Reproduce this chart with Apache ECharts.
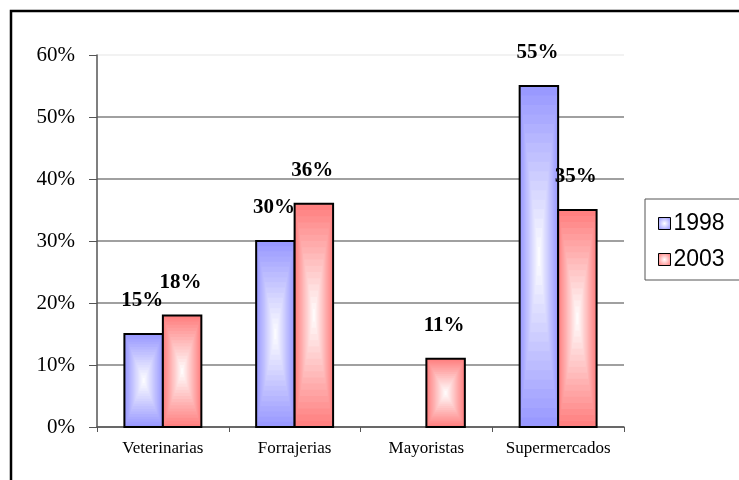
<!DOCTYPE html>
<html>
<head>
<meta charset="utf-8">
<script src="https://cdn.jsdelivr.net/npm/echarts@6/dist/echarts.min.js"></script>
<style>
  html, body { margin: 0; padding: 0; background: #fff; }
  #chart { width: 739px; height: 480px; }
</style>
</head>
<body>
<div id="chart"></div>
<script>
// Canales de venta: participación por año
const categories = ['Veterinarias', 'Forrajerias', 'Mayoristas', 'Supermercados'];
const seriesNames = ['1998', '2003'];
const values1998 = [15, 30, null, 55];
const values2003 = [18, 36, 11, 35];
const yMin = 0, yMax = 60, yStep = 10;

const edgeColors = { '1998': [153, 153, 255], '2003': [255, 128, 128] };

function mix(c, t) {
  const r = Math.round(c[0] + (255 - c[0]) * t);
  const g = Math.round(c[1] + (255 - c[1]) * t);
  const b = Math.round(c[2] + (255 - c[2]) * t);
  return 'rgb(' + r + ',' + g + ',' + b + ')';
}

// Bar with a stepped "from center" fill, outlined in black, value label above
function makeRenderer(side, name) {
  const base = edgeColors[name];
  return function (params, api) {
    const ci = api.value(0);
    const v = api.value(1);
    if (v === null || v === undefined || isNaN(v)) return null;
    const p0 = api.coord([ci, 0]);
    const p1 = api.coord([ci, v]);
    const catW = api.size([1, 0])[0];
    const bw = catW * 0.292;
    const x0 = side === 0 ? p0[0] - bw : p0[0];
    const y0 = p1[1], y1 = p0[1];
    const cx = x0 + bw / 2, cy = (y0 + y1) / 2;
    const hw = bw / 2, hh = (y1 - y0) / 2;
    const steps = 18;
    const children = [];
    for (let k = 0; k < steps; k++) {
      const t = k / steps;
      const s = 1 - t;
      children.push({
        type: 'rect',
        shape: { x: cx - hw * s, y: cy - hh * s, width: 2 * hw * s, height: 2 * hh * s },
        style: { fill: mix(base, Math.min(1, t * 1.02)) },
        silent: true
      });
    }
    children.push({
      type: 'rect',
      shape: { x: x0, y: y0, width: bw, height: y1 - y0 },
      style: { fill: 'none', stroke: '#000', lineWidth: 2 }
    });
    children.push({
      type: 'text',
      style: {
        text: v + '%',
        x: cx - 1.5,
        y: y0 - 33,
        align: 'center',
        verticalAlign: 'middle',
        fontFamily: '"Liberation Serif", "Times New Roman", serif',
        fontWeight: 'bold',
        fontSize: 21,
        fill: '#000'
      }
    });
    return { type: 'group', children: children };
  };
}

function toData(vals) {
  return vals.map(function (v, i) { return [i, v === null ? '-' : v]; });
}

function legendIcon(name) {
  const c = edgeColors[name];
  return {
    color: new echarts.graphic.RadialGradient(0.5, 0.5, 0.6, [
      { offset: 0, color: '#fff' },
      { offset: 1, color: mix(c, 0) }
    ]),
    borderColor: '#000',
    borderWidth: 1
  };
}

const chart = echarts.init(document.getElementById('chart'), null, { renderer: 'canvas' });

chart.setOption({
  animation: false,
  backgroundColor: '#fff',
  graphic: [{
    type: 'rect',
    shape: { x: 11, y: 11, width: 900, height: 700 },
    style: { fill: 'none', stroke: '#000', lineWidth: 2.5 },
    z: 100
  }],
  grid: { left: 97, right: 115, top: 55, bottom: 53, containLabel: false },
  legend: {
    orient: 'vertical',
    left: 645,
    top: 199,
    padding: [13, 24, 9, 13],
    itemWidth: 12,
    itemHeight: 12,
    itemGap: 13,
    borderColor: '#555',
    borderWidth: 1,
    textStyle: { fontFamily: '"Liberation Sans", Arial, sans-serif', fontSize: 23, color: '#000', padding: [0, 0, 0, -2] },
    data: seriesNames.map(function (n) {
      return { name: n, icon: 'rect', itemStyle: legendIcon(n) };
    })
  },
  xAxis: {
    type: 'category',
    data: categories,
    boundaryGap: true,
    axisLine: { lineStyle: { color: '#555', width: 1.5 } },
    axisTick: { show: true, interval: 0, length: 5, lineStyle: { color: '#555', width: 1 } },
    axisLabel: {
      interval: 0,
      margin: 13,
      fontFamily: '"Liberation Serif", "Times New Roman", serif',
      fontSize: 17,
      color: '#000'
    },
    splitLine: { show: false }
  },
  yAxis: {
    type: 'value',
    min: yMin,
    max: yMax,
    interval: yStep,
    axisLine: { show: true, lineStyle: { color: '#555', width: 1.5 } },
    axisTick: { show: true, length: 8, lineStyle: { color: '#555', width: 1 } },
    axisLabel: {
      margin: 22,
      formatter: '{value}%',
      fontFamily: '"Liberation Serif", "Times New Roman", serif',
      fontSize: 21,
      color: '#000'
    },
    splitLine: {
      show: true,
      lineStyle: {
        color: ['#808080', '#808080', '#808080', '#808080', '#808080', '#808080', '#eeeeee'],
        width: 1.5
      }
    }
  },
  series: [
    {
      name: seriesNames[0],
      type: 'custom',
      clip: false,
      itemStyle: { color: mix(edgeColors['1998'], 0) },
      encode: { x: 0, y: 1 },
      data: toData(values1998),
      renderItem: makeRenderer(0, '1998')
    },
    {
      name: seriesNames[1],
      type: 'custom',
      clip: false,
      itemStyle: { color: mix(edgeColors['2003'], 0) },
      encode: { x: 0, y: 1 },
      data: toData(values2003),
      renderItem: makeRenderer(1, '2003')
    }
  ]
});
</script>
</body>
</html>
